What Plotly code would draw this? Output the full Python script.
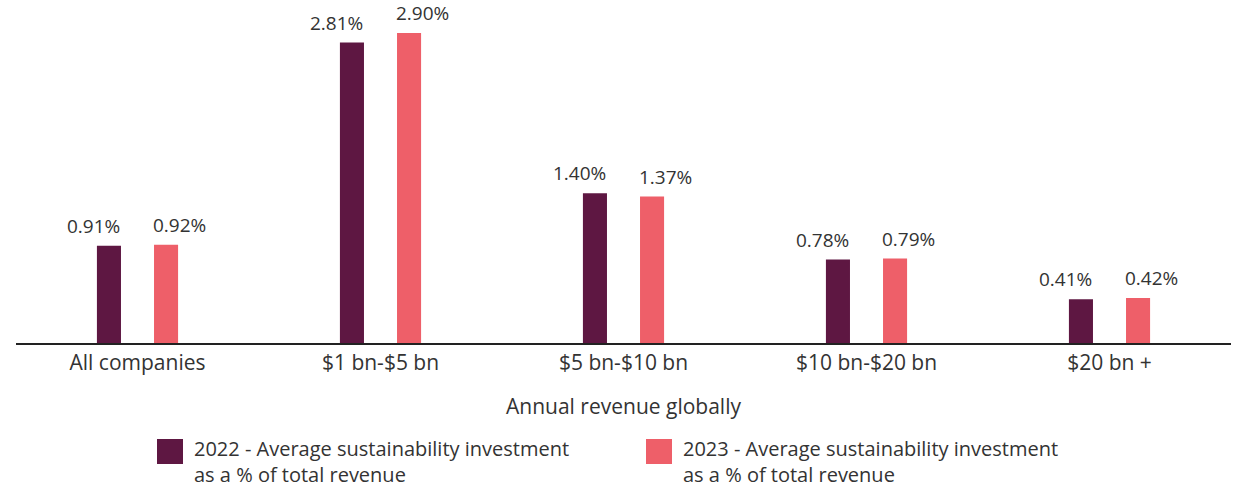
import plotly.graph_objects as go

categories = ["All companies", "$1 bn-$5 bn", "$5 bn-$10 bn", "$10 bn-$20 bn", "$20 bn +"]
values_2022 = [0.91, 2.81, 1.40, 0.78, 0.41]
values_2023 = [0.92, 2.90, 1.37, 0.79, 0.42]
series_lines = [
    ["2022 - Average sustainability investment", "as a % of total revenue"],
    ["2023 - Average sustainability investment", "as a % of total revenue"],
]
colors = ["#5E1742", "#EE5F69"]
axis_title = "Annual revenue globally"

FONT = "Open Sans"
TXT = "#333333"

W, H = 1236, 487
ml, mr, mt, mb = 16, 5, 10, 144
pw, ph = W - ml - mr, H - mt - mb
cat_px = pw / len(categories)

fig = go.Figure()
bar_w = 0.099
offsets = [-0.167, 0.068]
for vals, lines, col, off in zip([values_2022, values_2023], series_lines, colors, offsets):
    fig.add_trace(go.Bar(
        x=categories, y=vals, name=" ".join(lines),
        marker=dict(color=col, line=dict(width=0)),
        width=bar_w, offset=off,
        showlegend=False, hoverinfo="x+y",
    ))

# value labels (2022 right-aligned to bar right edge, 2023 left-aligned to bar left edge)
for c, v in zip(categories, values_2022):
    fig.add_annotation(x=c, y=v, text=f"{v:.2f}%", showarrow=False,
                       xanchor="right", yanchor="bottom",
                       xshift=(offsets[0] + bar_w) * cat_px + 1, yshift=5,
                       font=dict(size=19, color=TXT, family=FONT))
for c, v in zip(categories, values_2023):
    fig.add_annotation(x=c, y=v, text=f"{v:.2f}%", showarrow=False,
                       xanchor="left", yanchor="bottom",
                       xshift=offsets[1] * cat_px - 3, yshift=5,
                       font=dict(size=19, color=TXT, family=FONT))

def px_x(x):
    return (x - ml) / pw

def px_y(y):
    return (H - mb - y) / ph

# manual legend
leg_x = [157, 646]
for lines, col, lx in zip(series_lines, colors, leg_x):
    fig.add_shape(type="rect", xref="paper", yref="paper",
                  x0=px_x(lx), x1=px_x(lx + 26), y0=px_y(464), y1=px_y(439),
                  fillcolor=col, line=dict(width=0))
    fig.add_annotation(xref="paper", yref="paper", x=px_x(lx + 36), y=px_y(461),
                       xanchor="left", yanchor="middle", align="left",
                       text="<br>".join(lines), showarrow=False, borderpad=0,
                       font=dict(size=20, color=TXT, family=FONT))

fig.update_layout(
    width=W, height=H,
    margin=dict(l=ml, r=mr, t=mt, b=mb),
    plot_bgcolor="white", paper_bgcolor="white",
    font=dict(family=FONT, color=TXT, size=19),
    xaxis=dict(
        range=[-0.5, 4.5], showline=True, linecolor="#222222", linewidth=1.5,
        ticks="", tickfont=dict(size=21, color=TXT, family=FONT),
        title=dict(text=axis_title, font=dict(size=21, color=TXT, family=FONT), standoff=24),
        showgrid=False,
    ),
    yaxis=dict(range=[0, 3.115], visible=False, showgrid=False, zeroline=False),
)

fig.write_html(
    "out.html",
    config={"displayModeBar": False},
    post_script="document.body.style.margin='0';document.body.style.overflow='hidden';",
)
